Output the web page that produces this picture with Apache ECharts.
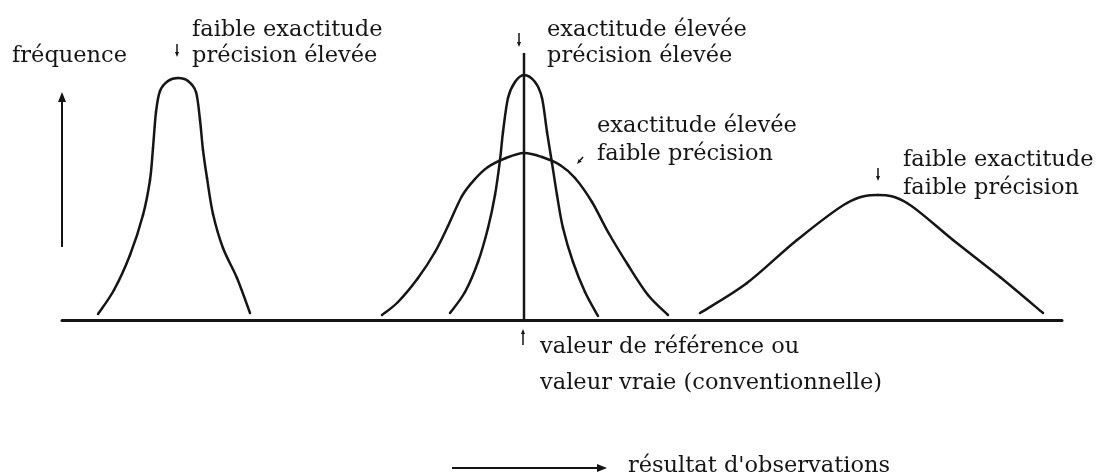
<!DOCTYPE html>
<html>
<head>
<meta charset="utf-8">
<script src="https://cdn.jsdelivr.net/npm/echarts@6/dist/echarts.min.js"></script>
<style>
  html, body { margin: 0; padding: 0; background: #fff; }
  #chart { width: 1100px; height: 474px; }
</style>
</head>
<body>
<div id="chart"></div>
<script>
// x = résultat d'observations (0..1000), y = fréquence (0..267)
const lowAccHighPrec = [[36,6],[52,30],[68,65],[81,105],[88,140],[91,172],[94,208],[98,229],[106,239],[116,242],[126,239],[134,228],[138,200],[141,170],[145,142],[151,106],[161,72],[175,42],[188,7]];
const highAccHighPrec = [[388,7],[403,28],[416,58],[426,92],[433,125],[438,160],[441,188],[446,222],[453,238],[462,245],[473,238],[480,222],[485,188],[490,157],[495,125],[501,92],[511,58],[523,28],[536,4]];
const highAccLowPrec = [[320,5],[336,18],[356,42],[373,68],[386,94],[400,124],[413,141],[426,153],[444,162],[462,167],[480,163],[498,155],[513,142],[530,118],[546,88],[566,55],[586,25],[606,5]];
const lowAccLowPrec = [[638,7],[685,37],[735,80],[785,117],[816,125],[845,117],[891,80],[938,43],[981,7]];
const refValue = 462;
const refTop = 267;

const curves = [lowAccHighPrec, highAccHighPrec, highAccLowPrec, lowAccLowPrec];
const curveNames = [
  'faible exactitude, précision élevée',
  'exactitude élevée, précision élevée',
  'exactitude élevée, faible précision',
  'faible exactitude, faible précision'
];

const INK = '#151515';
const FONT = '22.5px "DejaVu Serif", serif';

const labels = [
  { x: 12, y: 56, t: 'fréquence' },
  { x: 192, y: 30, t: 'faible exactitude' },
  { x: 192, y: 56, t: 'précision élevée' },
  { x: 547, y: 30, t: 'exactitude élevée' },
  { x: 547, y: 56, t: 'précision élevée' },
  { x: 597, y: 126, t: 'exactitude élevée' },
  { x: 597, y: 154, t: 'faible précision' },
  { x: 903, y: 160, t: 'faible exactitude' },
  { x: 903, y: 188, t: 'faible précision' },
  { x: 540, y: 347, t: 'valeur de référence ou' },
  { x: 540, y: 383, t: 'valeur vraie (conventionnelle)' },
  { x: 628, y: 466, t: "résultat d'observations" }
];

// little pointer arrows: [x1, y1, x2, y2, head, width]
const arrows = [
  [62, 247, 62, 92, 10, 2],
  [452, 468, 607, 468, 10, 2],
  [177, 44, 177, 57, 5, 1.5],
  [519, 33, 519, 47, 5, 1.5],
  [583, 157, 577, 164, 5, 1.5],
  [878, 168, 878, 181, 5, 1.5],
  [523, 345, 523, 329, 5, 1.5]
];

function arrow(a) {
  const [x1, y1, x2, y2, h, w] = a;
  const len = Math.hypot(x2 - x1, y2 - y1);
  const ux = (x2 - x1) / len, uy = (y2 - y1) / len;
  const bx = x2 - ux * h, by = y2 - uy * h;
  const hw = h * 0.4;
  return {
    type: 'group',
    children: [
      { type: 'line', shape: { x1: x1, y1: y1, x2: bx, y2: by }, style: { stroke: INK, lineWidth: w } },
      { type: 'polygon', shape: { points: [[x2, y2], [bx - uy * hw, by + ux * hw], [bx + uy * hw, by - ux * hw]] }, style: { fill: INK } }
    ]
  };
}

// Catmull-Rom through the read points, drawn as cubic beziers in pixel space
function renderCurve(params, api) {
  const pts = curves[params.dataIndex].map(p => api.coord(p));
  const n = pts.length;
  const segs = [];
  for (let i = 0; i < n - 1; i++) {
    const p0 = pts[Math.max(i - 1, 0)], p1 = pts[i], p2 = pts[i + 1], p3 = pts[Math.min(i + 2, n - 1)];
    segs.push({
      type: 'bezierCurve',
      shape: {
        x1: p1[0], y1: p1[1], x2: p2[0], y2: p2[1],
        cpx1: p1[0] + (p2[0] - p0[0]) / 6, cpy1: p1[1] + (p2[1] - p0[1]) / 6,
        cpx2: p2[0] - (p3[0] - p1[0]) / 6, cpy2: p2[1] - (p3[1] - p1[1]) / 6
      },
      style: { stroke: INK, lineWidth: 2.5, fill: null, lineCap: 'round' }
    });
  }
  return { type: 'group', children: segs };
}

const chart = echarts.init(document.getElementById('chart'));
chart.setOption({
  animation: false,
  backgroundColor: '#fff',
  grid: { left: 62, right: 38, top: 53, bottom: 154 },
  xAxis: {
    type: 'value', min: 0, max: 1000,
    axisLine: { show: true, lineStyle: { color: INK, width: 3 } },
    axisTick: { show: false }, axisLabel: { show: false }, splitLine: { show: false }
  },
  yAxis: { type: 'value', min: 0, max: refTop, show: false },
  series: [
    {
      name: 'courbes',
      type: 'custom',
      renderItem: renderCurve,
      data: curves.map((c, i) => ({ name: curveNames[i], value: c[0] })),
      silent: true
    },
    {
      name: 'valeur de référence',
      type: 'line',
      data: [[refValue, 0], [refValue, refTop]],
      showSymbol: false,
      lineStyle: { color: INK, width: 2.5 }
    }
  ],
  graphic: labels.map(l => ({
    type: 'text',
    style: { text: l.t, x: l.x, y: l.y, font: FONT, fill: INK, align: 'left', verticalAlign: 'middle' }
  })).concat(arrows.map(arrow))
});
</script>
</body>
</html>
